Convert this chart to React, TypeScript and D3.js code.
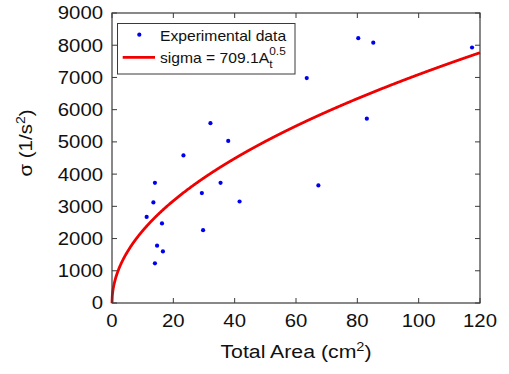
import React from "react";
import * as d3 from "d3";

const areaX = [80.3, 85.2, 117.4, 63.5, 83.1, 32.1, 37.9, 23.3, 14.0, 35.4, 67.3, 29.3, 13.5, 41.6, 11.3, 16.3, 29.7, 14.7, 16.6, 14.0];
const sigmaY = [8220, 8080, 7930, 6980, 5720, 5580, 5030, 4580, 3730, 3730, 3650, 3410, 3120, 3150, 2670, 2470, 2260, 1780, 1600, 1230];
const xTicks = [0, 20, 40, 60, 80, 100, 120];
const yTicks = [0, 1000, 2000, 3000, 4000, 5000, 6000, 7000, 8000, 9000];
const fitCoef = 709.1;
const fitExp = 0.5;

const SX = 1.13;

function T(props: { x: number; y: number; anchor?: string; size: number; sx?: number; rotate?: number; children: React.ReactNode }) {
  const { x, y, anchor = "start", size, sx = SX, rotate = 0, children } = props;
  return (
    <text
      transform={`translate(${x},${y}) rotate(${rotate}) scale(${sx},1)`}
      textAnchor={anchor}
      fontSize={size}
      fill="#111"
    >
      {children}
    </text>
  );
}

export default function App() {
  const W = 509, H = 374;
  const L = 112, R = 480, Tp = 13, B = 303;
  const x = d3.scaleLinear().domain([0, 120]).range([L, R]);
  const y = d3.scaleLinear().domain([0, 9000]).range([B, Tp]);
  const fitXs = d3.range(0, 1201).map((i) => i / 10);
  const line = d3.line<number>().x((d) => x(d)).y((d) => y(fitCoef * Math.pow(d, fitExp)));
  const font = "'Liberation Sans', Arial, Helvetica, sans-serif";
  const axisColor = "#3a3a3a";
  const tl = 5;
  return (
    <svg width={W} height={H} style={{ position: "absolute", left: 0, top: 0, background: "#fff" }} fontFamily={font}>
      <rect x={0} y={0} width={W} height={H} fill="#fff" />
      {xTicks.map((t) => (
        <g key={"x" + t}>
          <line x1={x(t)} x2={x(t)} y1={B} y2={B - tl} stroke={axisColor} strokeWidth={1} />
          <line x1={x(t)} x2={x(t)} y1={Tp} y2={Tp + tl} stroke={axisColor} strokeWidth={1} />
          <T x={x(t)} y={327} anchor="middle" size={18}>{t}</T>
        </g>
      ))}
      {yTicks.map((t) => (
        <g key={"y" + t}>
          <line x1={L} x2={L + tl} y1={y(t)} y2={y(t)} stroke={axisColor} strokeWidth={1} />
          <line x1={R} x2={R - tl} y1={y(t)} y2={y(t)} stroke={axisColor} strokeWidth={1} />
          <T x={103} y={y(t) + 6.4} anchor="end" size={18}>{t}</T>
        </g>
      ))}
      <path d={line(fitXs) || ""} fill="none" stroke="#f00000" strokeWidth={2.8} />
      {areaX.map((a, i) => (
        <circle key={i} cx={x(a)} cy={y(sigmaY[i])} r={2.1} fill="#0000ee" />
      ))}
      <rect x={L} y={Tp} width={R - L} height={B - Tp} fill="none" stroke={axisColor} strokeWidth={1.2} />
      <rect x={117.5} y={23.5} width={177.5} height={50.5} fill="#fff" stroke={axisColor} strokeWidth={1} />
      <circle cx={139.3} cy={34.7} r={2.1} fill="#0000ee" />
      <T x={160} y={40.5} size={14.5} sx={1.08}>Experimental data</T>
      <line x1={122.7} x2={155} y1={57.3} y2={57.3} stroke="#f00000" strokeWidth={2.8} />
      <T x={160} y={63} size={14.5} sx={1.08}>
        sigma = 709.1A
        <tspan fontSize={11} dy={5}>t</tspan>
        <tspan fontSize={11} dx={-3} dy={-13}>0.5</tspan>
      </T>
      <T x={296} y={358} anchor="middle" size={19} sx={1.12}>
        Total Area (cm<tspan fontSize={13} dy={-7}>2</tspan><tspan dy={7}>)</tspan>
      </T>
      <T x={32} y={143} anchor="middle" size={19} sx={1.08} rotate={-90}>
        σ (1/s<tspan fontSize={13} dy={-7}>2</tspan><tspan dy={7}>)</tspan>
      </T>
    </svg>
  );
}
